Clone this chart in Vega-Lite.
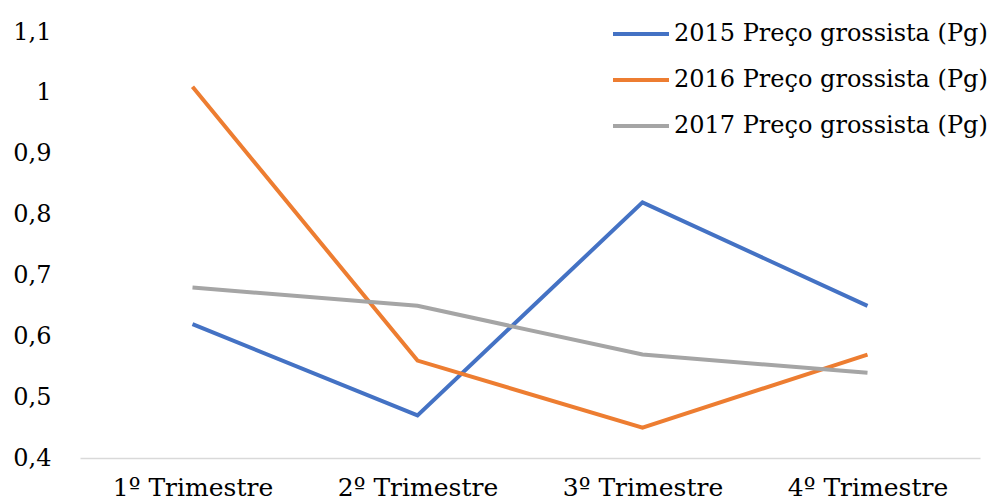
{
  "$schema": "https://vega.github.io/schema/vega-lite/v6.json",
  "width": 900,
  "height": 426,
  "autosize": {"type": "none"},
  "padding": {"left": 80, "top": 32, "right": 22, "bottom": 45},
  "background": "white",
  "config": {
    "view": {"stroke": null},
    "font": "DejaVu Serif"
  },
  "data": {
    "values": [
      {"trimestre": "1º Trimestre", "serie": "2015 Preço grossista (Pg)", "valor": 0.62},
      {"trimestre": "2º Trimestre", "serie": "2015 Preço grossista (Pg)", "valor": 0.47},
      {"trimestre": "3º Trimestre", "serie": "2015 Preço grossista (Pg)", "valor": 0.82},
      {"trimestre": "4º Trimestre", "serie": "2015 Preço grossista (Pg)", "valor": 0.65},
      {"trimestre": "1º Trimestre", "serie": "2016 Preço grossista (Pg)", "valor": 1.01},
      {"trimestre": "2º Trimestre", "serie": "2016 Preço grossista (Pg)", "valor": 0.56},
      {"trimestre": "3º Trimestre", "serie": "2016 Preço grossista (Pg)", "valor": 0.45},
      {"trimestre": "4º Trimestre", "serie": "2016 Preço grossista (Pg)", "valor": 0.57},
      {"trimestre": "1º Trimestre", "serie": "2017 Preço grossista (Pg)", "valor": 0.68},
      {"trimestre": "2º Trimestre", "serie": "2017 Preço grossista (Pg)", "valor": 0.65},
      {"trimestre": "3º Trimestre", "serie": "2017 Preço grossista (Pg)", "valor": 0.57},
      {"trimestre": "4º Trimestre", "serie": "2017 Preço grossista (Pg)", "valor": 0.54}
    ]
  },
  "mark": {"type": "line", "strokeWidth": 4, "strokeJoin": "miter"},
  "encoding": {
    "x": {
      "field": "trimestre",
      "type": "ordinal",
      "sort": ["1º Trimestre", "2º Trimestre", "3º Trimestre", "4º Trimestre"],
      "scale": {"paddingInner": 0, "paddingOuter": 0.5},
      "axis": {
        "title": null,
        "labelAngle": 0,
        "ticks": false,
        "domainColor": "#d9d9d9",
        "domainWidth": 1.5,
        "labelFontSize": 25,
        "labelColor": "#000000",
        "labelPadding": 17,
        "labelFont": "DejaVu Serif",
        "grid": false
      }
    },
    "y": {
      "field": "valor",
      "type": "quantitative",
      "scale": {"domain": [0.4, 1.1], "nice": false, "zero": false},
      "axis": {
        "title": null,
        "values": [0.4, 0.5, 0.6, 0.7, 0.8, 0.9, 1.0, 1.1],
        "labelExpr": "replace(format(datum.value, '.1~f'), '.', ',')",
        "grid": false,
        "domain": false,
        "ticks": false,
        "labelFontSize": 24,
        "labelColor": "#000000",
        "labelPadding": 29,
        "labelFont": "DejaVu Serif"
      }
    },
    "color": {
      "field": "serie",
      "type": "nominal",
      "scale": {
        "domain": ["2015 Preço grossista (Pg)", "2016 Preço grossista (Pg)", "2017 Preço grossista (Pg)"],
        "range": ["#4472C4", "#ED7D31", "#A5A5A5"]
      },
      "legend": {
        "title": null,
        "orient": "none",
        "legendX": 531,
        "legendY": -28,
        "symbolType": "stroke",
        "symbolSize": 3136,
        "symbolStrokeWidth": 4,
        "labelFontSize": 24,
        "labelColor": "#000000",
        "labelFont": "DejaVu Serif",
        "labelLimit": 400,
        "labelOffset": 3,
        "rowPadding": 4
      }
    }
  }
}
